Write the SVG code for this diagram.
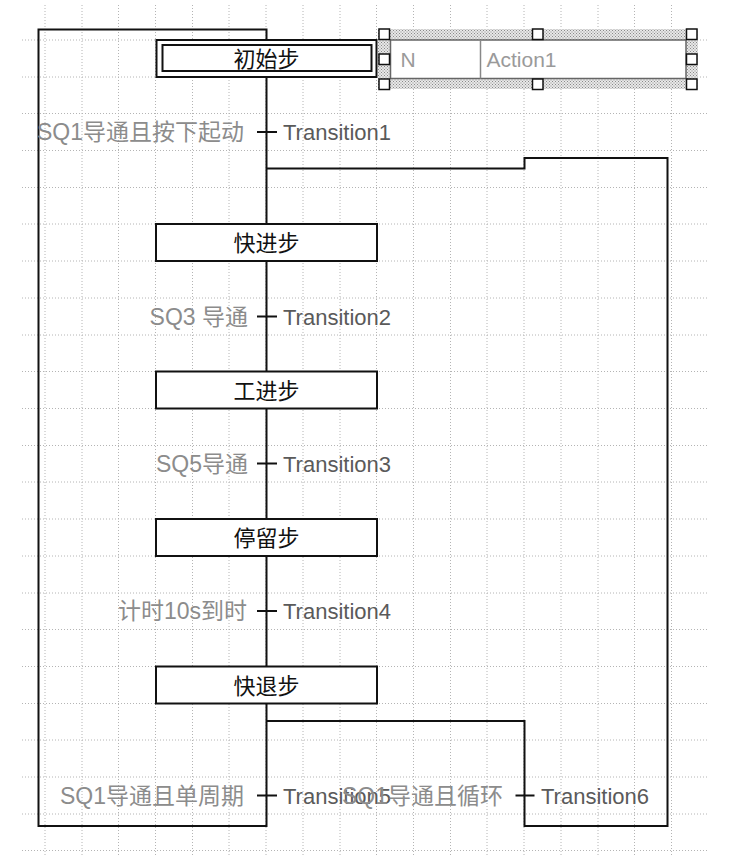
<svg xmlns="http://www.w3.org/2000/svg" width="736" height="855" viewBox="0 0 736 855">
<defs>
<pattern id="hatch" width="3" height="3" patternUnits="userSpaceOnUse">
<rect width="3" height="3" fill="#e8e8e8"/>
<rect x="0" y="0" width="1" height="1" fill="#8a8a8a"/>
<rect x="1.5" y="1.5" width="1" height="1" fill="#8a8a8a"/>
</pattern>
<style>
.grid{stroke:#b4b4b4;stroke-width:1;stroke-dasharray:1 2;fill:none}
.line{stroke:#111;stroke-width:2;fill:none}
.step{fill:#fff;stroke:#111;stroke-width:2}
.stext{font-family:"Liberation Sans","Noto Sans CJK SC",sans-serif;font-size:22px;fill:#111;text-anchor:middle}
.tname{font-family:"Liberation Sans","Noto Sans CJK SC",sans-serif;font-size:22px;fill:#5a5a5a}
.cond{font-family:"Liberation Sans","Noto Sans CJK SC",sans-serif;font-size:23px;fill:#8c8c8c;text-anchor:end}
.handle{fill:#fff;stroke:#111;stroke-width:1.5}
.atext{font-family:"Liberation Sans",sans-serif;font-size:21px;fill:#9a9a9a}
</style>
</defs>
<rect width="736" height="855" fill="#fff"/>
<g id="grid">
<path class="grid" d="M45 5V855M82 5V855M118.5 5V855M155.5 5V855M192.5 5V855M229 5V855M266 5V855M303 5V855M340 5V855M376.5 5V855M413.5 5V855M450.5 5V855M487 5V855M524 5V855M561 5V855M598 5V855M634.5 5V855M671.5 5V855"/>
<path class="grid" d="M22 40H707M22 77H707M22 113.5H707M22 150.5H707M22 187.5H707M22 224H707M22 261H707M22 298H707M22 335H707M22 371.5H707M22 408.5H707M22 445.5H707M22 482H707M22 519H707M22 556H707M22 593H707M22 629.5H707M22 666.5H707M22 703.5H707M22 740H707M22 777H707M22 814H707M22 850.5H707"/>
</g>
<g id="connectors">
<path class="line" d="M266.5 77V224M266.5 261V371.5M266.5 408.5V519M266.5 556V666.5"/>
<path class="line" d="M266.5 703.5V826H38.5V29.5H266.5V40"/>
<path class="line" d="M266.5 168.5H524.5V158H667.5V826H524.5V721H266.5"/>
<path class="line" d="M257 132H277M257 316.5H277M257 463.5H277M257 611H277M257 795.5H277M515.5 795.5H534.5"/>
</g>
<g id="step0">
<rect class="step" x="156.5" y="40" width="220" height="37"/>
<rect class="step" x="162.5" y="45" width="209" height="26"/>
<text class="stext" x="266.5" y="67">初始步</text>
</g>
<g id="action1">
<rect x="378" y="29" width="320" height="60" fill="url(#hatch)"/>
<rect x="390.5" y="40" width="295.5" height="38.5" fill="#fff" stroke="#666" stroke-width="1.5"/>
<line x1="480.5" y1="40" x2="480.5" y2="78.5" stroke="#888" stroke-width="1.5"/>
<text class="atext" x="400.5" y="67">N</text>
<text class="atext" x="486.5" y="67">Action1</text>
<rect class="handle" x="379" y="29" width="10.5" height="10.5"/>
<rect class="handle" x="532.5" y="29" width="10.5" height="10.5"/>
<rect class="handle" x="686.5" y="29" width="10.5" height="10.5"/>
<rect class="handle" x="379" y="54" width="10.5" height="10.5"/>
<rect class="handle" x="686.5" y="54" width="10.5" height="10.5"/>
<rect class="handle" x="379" y="79" width="10.5" height="10.5"/>
<rect class="handle" x="532.5" y="79" width="10.5" height="10.5"/>
<rect class="handle" x="686.5" y="79" width="10.5" height="10.5"/>
</g>
<g id="step1">
<rect class="step" x="156" y="224" width="221" height="37"/>
<text class="stext" x="266.5" y="251">快进步</text>
</g>
<g id="step2">
<rect class="step" x="156" y="371.5" width="221" height="37"/>
<text class="stext" x="266.5" y="398.5">工进步</text>
</g>
<g id="step3">
<rect class="step" x="156" y="519" width="221" height="37"/>
<text class="stext" x="266.5" y="546">停留步</text>
</g>
<g id="step4">
<rect class="step" x="156" y="666.5" width="221" height="37"/>
<text class="stext" x="266.5" y="693.5">快退步</text>
</g>
<g id="transition1">
<text class="cond" x="244" y="140">SQ1导通且按下起动</text>
<text class="tname" x="283" y="140">Transition1</text>
</g>
<g id="transition2">
<text class="cond" x="248" y="324.5">SQ3 导通</text>
<text class="tname" x="283" y="324.5">Transition2</text>
</g>
<g id="transition3">
<text class="cond" x="248" y="471.5">SQ5导通</text>
<text class="tname" x="283" y="471.5">Transition3</text>
</g>
<g id="transition4">
<text class="cond" x="247" y="619">计时10s到时</text>
<text class="tname" x="283" y="619">Transition4</text>
</g>
<g id="transition5">
<text class="cond" x="244" y="803.5">SQ1导通且单周期</text>
<text class="tname" x="283" y="803.5">Transition5</text>
</g>
<g id="transition6">
<text class="cond" x="503" y="803.5">SQ1导通且循环</text>
<text class="tname" x="541" y="803.5">Transition6</text>
</g>
</svg>
